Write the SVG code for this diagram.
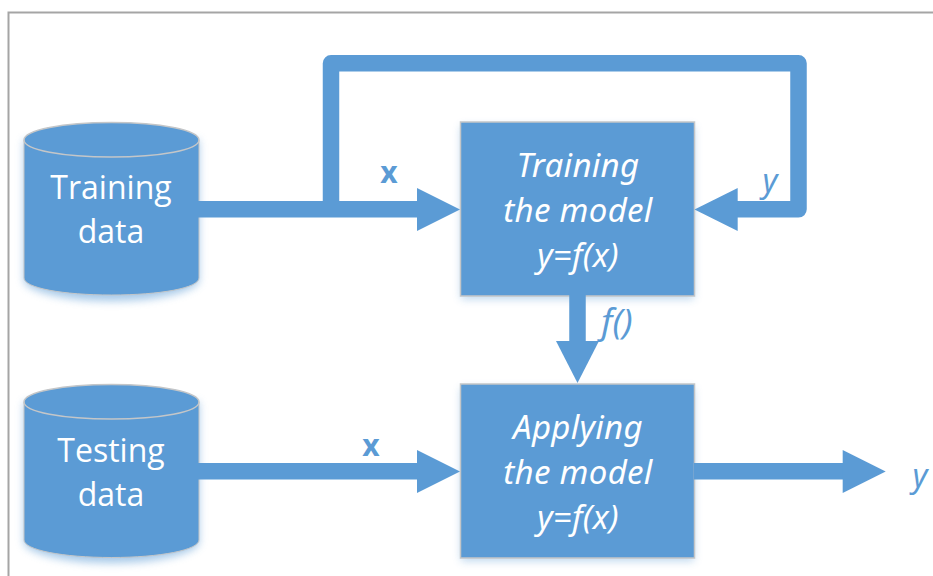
<svg xmlns="http://www.w3.org/2000/svg" width="933" height="576" viewBox="0 0 933 576">
<style>
.f{fill:#5b9bd5}
.s{stroke:#c4c6c8;stroke-width:1.5}
.t{font-family:"Open Sans","Noto Sans",sans-serif;font-size:32px;fill:#fff;text-anchor:middle}
.i{font-family:"Noto Sans","Open Sans",sans-serif;font-style:italic;font-size:33px;letter-spacing:.3px}
.l{font-family:"Open Sans","Noto Sans",sans-serif;fill:#5b9bd5;font-size:30px;text-anchor:middle}
.k{font-family:"Noto Sans","Open Sans",sans-serif;font-style:italic;font-size:32px}
.b{font-weight:700}
.c{fill:none;stroke:#5b9bd5;stroke-width:16.5}
</style>
<defs>
<filter id="sh" x="-15%" y="-15%" width="130%" height="130%"><feGaussianBlur stdDeviation="4"/></filter>
</defs>
<rect width="933" height="576" fill="#fff"/>
<path d="M933 12.500H8.500V576" fill="none" stroke="#a5a5a5" stroke-width="2"/>
<g id="training-data">
<path d="M24 140V280C24 290 63 301 111.500 301S199 290 199 280V140Z" fill="#5b9bd5" opacity=".55" filter="url(#sh)"/>
<path class="f" d="M24 140C24 130 63 122.500 111.500 122.500S199 130 199 140V278C199 288 160 295 111.500 295S24 288 24 278Z"/>
<path class="f s" d="M24 140C24 130 63 122.500 111.500 122.500S199 130 199 140C199 150 160 157 111.500 157S24 150 24 140Z"/>
<path d="M24 140V278C24 288 63 295 111.500 295S199 288 199 278V140" fill="none" stroke="#c4c6c8" stroke-width="1"/>
<text class="t" x="111" y="199">Training</text>
<text class="t" x="111" y="243">data</text>
</g>
<g id="testing-data">
<path d="M24 402V542C24 552 63 563 111.500 563S199 552 199 542V402Z" fill="#5b9bd5" opacity=".55" filter="url(#sh)"/>
<path class="f" d="M24 402C24 392 63 384.500 111.500 384.500S199 392 199 402V540C199 550 160 557.500 111.500 557.500S24 550 24 540Z"/>
<path class="f s" d="M24 402C24 392 63 384.500 111.500 384.500S199 392 199 402C199 412 160 419 111.500 419S24 412 24 402Z"/>
<path d="M24 402V540C24 550 63 557.500 111.500 557.500S199 550 199 540V402" fill="none" stroke="#c4c6c8" stroke-width="1"/>
<text class="t" x="111" y="462">Testing</text>
<text class="t" x="111" y="506">data</text>
</g>
<g id="training-model">
<rect x="461" y="126" width="233" height="173" fill="#5b9bd5" opacity=".4" filter="url(#sh)"/>
<rect class="f s" x="460.500" y="122" width="234" height="174"/>
<text class="t i" x="578" y="177">Training</text>
<text class="t i" x="578" y="222">the model</text>
<text class="t i" x="578" y="267">y=f(x)</text>
</g>
<g id="applying-model">
<rect x="461" y="388" width="233" height="173" fill="#5b9bd5" opacity=".4" filter="url(#sh)"/>
<rect class="f s" x="460.500" y="384" width="234" height="174"/>
<text class="t i" x="578" y="439">Applying</text>
<text class="t i" x="578" y="484">the model</text>
<text class="t i" x="578" y="529">y=f(x)</text>
</g>
<g id="connectors">
<path class="c" d="M198 209.300H420"/>
<path class="c" stroke-linejoin="round" d="M331 209V63.300H798.500V209.300H736"/>
<path class="c" d="M577.500 295V343"/>
<path class="c" d="M198 471.300H420"/>
<path class="c" d="M694 471.300H845"/>
<path class="f" d="M417 188L460 209.500L417 231Z"/>
<path class="f" d="M737.700 188L694.500 209.500L737.700 231Z"/>
<path class="f" d="M556 341H599L577.500 383Z"/>
<path class="f" d="M417 450L460 471.500L417 493Z"/>
<path class="f" d="M842.700 450L885.700 471.500L842.700 493Z"/>
</g>
<g id="labels">
<text class="l b" x="389" y="183">x</text>
<text class="l k" x="770" y="192">y</text>
<text class="l k" x="617" y="334" style="font-size:35px">f()</text>
<text class="l b" x="371" y="456">x</text>
<text class="l k" x="920" y="487">y</text>
</g>
</svg>
